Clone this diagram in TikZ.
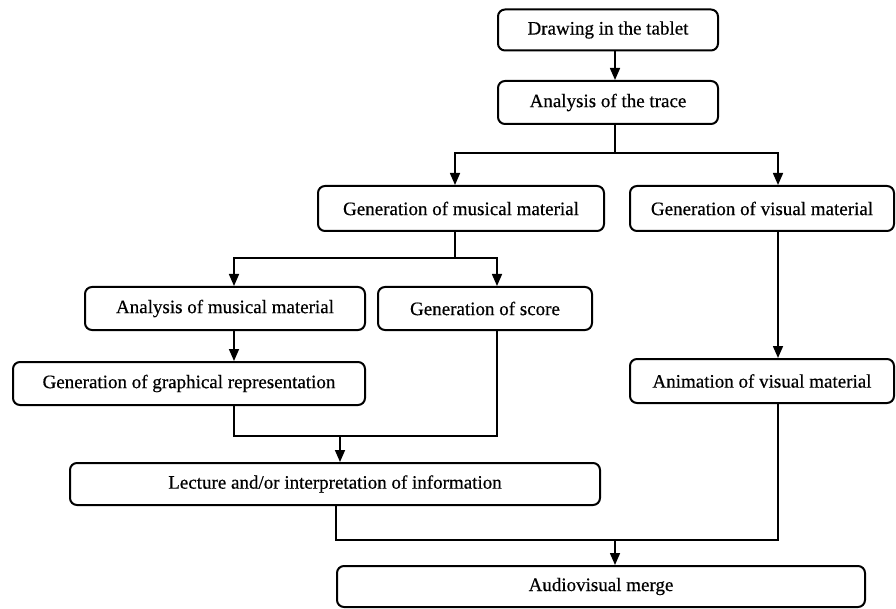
\documentclass[tikz,border=0pt]{standalone}
\usepackage{fontspec}
\setmainfont{Liberation Serif}
\newfontfamily\stepfont{Liberation Serif}[FakeBold=0.5]
\usetikzlibrary{arrows.meta}
\tikzset{
  x=1pt, y=-1pt,
  stepbox/.style={draw=black, line width=2pt, rounded corners=7pt, fill=white,
    inner sep=0pt, font=\stepfont\fontsize{19}{22}\selectfont, anchor=center},
  link/.style={draw=black, line width=1.6pt},
  arr/.style={link, -{Triangle[width=10pt,length=12pt]}}
}
\begin{document}
\begin{tikzpicture}
\useasboundingbox[fill=white] (0,0) rectangle (896,609);

% process steps
\node[stepbox, minimum width=220pt, minimum height=41pt] (draw)  at (608,30)    {Drawing in the tablet};
\node[stepbox, minimum width=220pt, minimum height=43pt] (trace) at (608,102.5) {Analysis of the trace};
\node[stepbox, minimum width=286pt, minimum height=45pt] (music) at (461,208.5) {Generation of musical material};
\node[stepbox, minimum width=264pt, minimum height=45pt] (visual) at (762,208.5) {Generation of visual material};
\node[stepbox, minimum width=280pt, minimum height=43pt] (anamus) at (225,308.5) {Analysis of musical material};
\node[stepbox, minimum width=214pt, minimum height=43pt] (score) at (485,308.5) {Generation of score};
\node[stepbox, minimum width=352pt, minimum height=43pt] (graph) at (189,383.5) {Generation of graphical representation};
\node[stepbox, minimum width=264pt, minimum height=44pt] (anim) at (762,381) {Animation of visual material};
\node[stepbox, minimum width=530pt, minimum height=42pt] (lect) at (335,484) {Lecture and/or interpretation of information};
\node[stepbox, minimum width=528pt, minimum height=41pt] (merge) at (601,586.5) {Audiovisual merge};

% routing points
\coordinate (top)  at (615,153);
\coordinate (mx)   at (455,0);
\coordinate (vx)   at (778,0);
\coordinate (mj)   at (455,258);
\coordinate (ax)   at (234,0);
\coordinate (sx)   at (497,0);
\coordinate (gj)   at (340,436);
\coordinate (lx)   at (336,0);
\coordinate (fj)   at (615,540);

% connectors
\draw[arr] (draw.south -| top) -- (trace.north -| top);
\draw[link] (trace.south -| top) -- (top);
\draw[arr] (top) -| (music.north -| mx);
\draw[arr] (top) -| (visual.north -| vx);
\draw[link] (music.south -| mx) -- (mj);
\draw[arr] (mj) -| (anamus.north -| ax);
\draw[arr] (mj) -| (score.north -| sx);
\draw[arr] (anamus.south -| ax) -- (graph.north -| ax);
\draw[arr] (visual.south -| vx) -- (anim.north -| vx);
\draw[link] (graph.south -| ax) |- (gj);
\draw[link] (score.south -| sx) |- (gj);
\draw[arr] (gj) -- (lect.north -| gj);
\draw[link] (lect.south -| lx) |- (fj);
\draw[link] (anim.south -| vx) |- (fj);
\draw[arr] (fj) -- (merge.north -| fj);
\end{tikzpicture}
\end{document}
